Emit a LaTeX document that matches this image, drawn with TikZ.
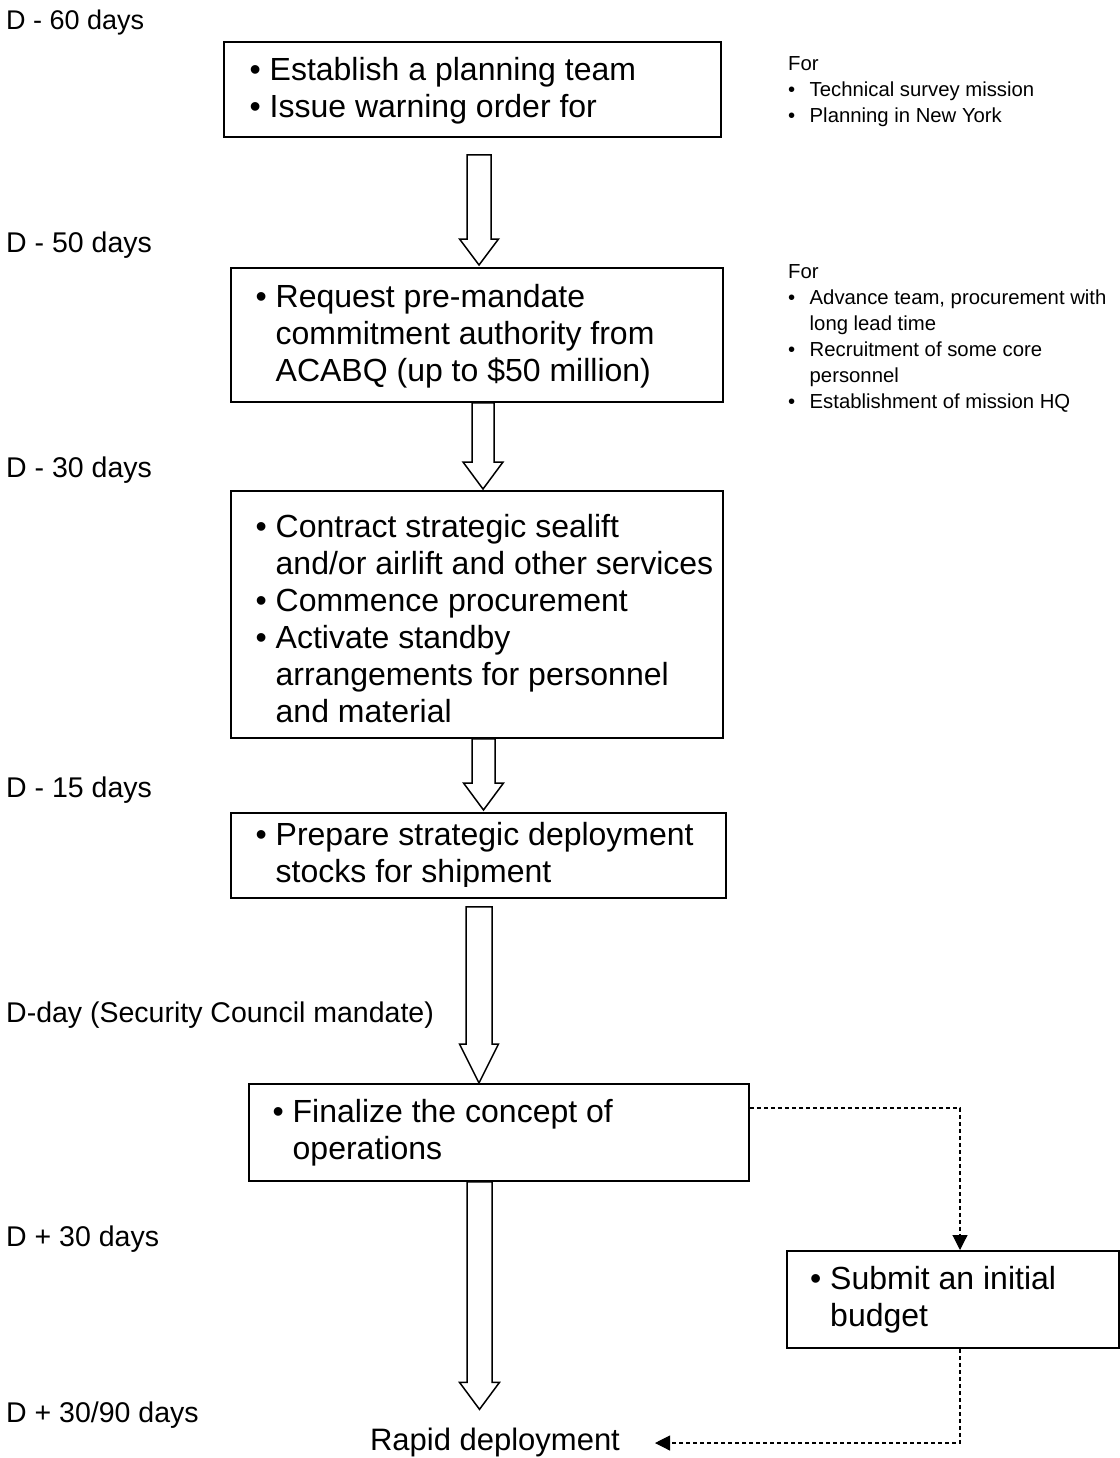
\documentclass[tikz,border=0pt]{standalone}
\usepackage{fontspec}
\setmainfont{Liberation Sans}
\usetikzlibrary{calc,arrows.meta}
\newcommand\bu{\makebox[17pt][l]{\hspace*{-3pt}\textbullet}}
\newcommand\bs{\makebox[21.5pt][l]{\textbullet}}
% #1 start point, #2 end point, #3 centre x, #4 gap below start, #5 gap above end,
% #6 shaft half width, #7 head half width, #8 head length
\newcommand\blockarr[8]{%
  \draw[blockarrow] let \p1=(#1), \p2=(#2) in
  ({(#3-#6)*1pt},{\y1-#4pt}) -- ({(#3+#6)*1pt},{\y1-#4pt})
  -- ({(#3+#6)*1pt},{\y2+(#5+#8)*1pt}) -- ({(#3+#7)*1pt},{\y2+(#5+#8)*1pt})
  -- ({#3*1pt},{\y2+#5pt}) -- ({(#3-#7)*1pt},{\y2+(#5+#8)*1pt})
  -- ({(#3-#6)*1pt},{\y2+(#5+#8)*1pt}) -- cycle;}
\begin{document}
\begin{tikzpicture}[x=1pt,y=1pt,
  boxnode/.style={draw, line width=1.8pt, inner sep=0pt, anchor=north west, rectangle},
  bigtext/.style={inner sep=0pt, anchor=base west, font=\fontsize{32}{37}\selectfont},
  sidetext/.style={inner sep=0pt, anchor=base west, font=\fontsize{20.3}{26}\selectfont},
  daylabel/.style={inner sep=0pt, anchor=base west, font=\fontsize{28.5}{33}\selectfont},
  blockarrow/.style={draw, line width=1.5pt, fill=white, line join=miter},
  dashconn/.style={line width=1.1pt, dash pattern=on 4pt off 3pt, -{Triangle[length=15pt,width=15pt]}}
]
\useasboundingbox (0,0) rectangle (1119,-1458);

% day labels
\node[daylabel, font=\fontsize{27}{32}\selectfont] (l1) at (6,-29.5) {D - 60 days};
\node[daylabel] (l2) at (6,-252.5) {D - 50 days};
\node[daylabel] (l3) at (6,-477.5) {D - 30 days};
\node[daylabel] (l4) at (6,-797.5) {D - 15 days};
\node[daylabel] (l5) at (6,-1022.5) {D-day (Security Council mandate)};
\node[daylabel] (l6) at (6,-1246.5) {D + 30 days};
\node[daylabel] (l7) at (6,-1422.5) {D + 30/90 days};

% boxes
\node[boxnode, minimum width=497pt, minimum height=95pt] (b1) at (223,-41) {};
\node[boxnode, minimum width=492pt, minimum height=134pt] (b2) at (230,-267) {};
\node[boxnode, minimum width=492pt, minimum height=247pt] (b3) at (230,-490) {};
\node[boxnode, minimum width=495pt, minimum height=85pt] (b4) at (230,-812) {};
\node[boxnode, minimum width=500pt, minimum height=97pt] (b5) at (248,-1083) {};
\node[boxnode, minimum width=332pt, minimum height=97pt] (b6) at (786,-1250) {};

% box texts
\node[bigtext] (t1) at (252.5,-80.5) {\begin{tabular}[t]{@{}l@{}l@{}}
\bu & Establish a planning team\\
\bu & Issue warning order for\end{tabular}};
\node[bigtext] (t2) at (258.5,-307.5) {\begin{tabular}[t]{@{}l@{}l@{}}
\bu & Request pre-mandate\\
 & commitment authority from\\
 & ACABQ (up to \$50 million)\end{tabular}};
\node[bigtext] (t3) at (258.5,-537.5) {\begin{tabular}[t]{@{}l@{}l@{}}
\bu & Contract strategic sealift\\
 & and/or airlift and other services\\
\bu & Commence procurement\\
\bu & Activate standby\\
 & arrangements for personnel\\
 & and material\end{tabular}};
\begin{scope}
\clip (b4.north west) rectangle ([yshift=12pt]b4.south east);
\node[bigtext] (t4) at (258.5,-845.5) {\begin{tabular}[t]{@{}l@{}l@{}}
\bu & Prepare strategic deployment\\
 & stocks for shipment\end{tabular}};
\end{scope}
\node[bigtext] (t5) at (275.5,-1122.5) {\begin{tabular}[t]{@{}l@{}l@{}}
\bu & Finalize the concept of\\
 & operations\end{tabular}};
\node[bigtext] (t6) at (813,-1289.5) {\begin{tabular}[t]{@{}l@{}l@{}}
\bu & Submit an initial\\
 & budget\end{tabular}};

% side notes
\node[sidetext] (s1) at (788,-71) {\begin{tabular}[t]{@{}l@{}l@{}}
\multicolumn{2}{@{}l@{}}{For}\\
\bs & Technical survey mission\\
\bs & Planning in New York\end{tabular}};
\node[sidetext] (s2) at (788,-278) {\begin{tabular}[t]{@{}l@{}l@{}}
\multicolumn{2}{@{}l@{}}{For}\\
\bs & Advance team, procurement with\\
 & long lead time\\
\bs & Recruitment of some core\\
 & personnel\\
\bs & Establishment of mission HQ\end{tabular}};

% final text
\node[inner sep=0pt, anchor=base, font=\fontsize{31}{36}\selectfont] (rapid) at (495,-1450) {Rapid deployment};

% block arrows
\blockarr{b1.south}{b2.north}{479}{17}{2}{12}{19.5}{26}
\blockarr{b2.south}{b3.north}{483}{0}{1}{11}{20}{27}
\blockarr{b3.south}{b4.north}{483.5}{0}{2}{11.5}{20}{27}
\blockarr{b4.south}{b5.north}{479}{8}{0}{13}{19.5}{39}
\blockarr{b5.south}{rapid.north}{479.5}{0}{18}{12.5}{20}{27}

% dashed connectors
\coordinate (dx) at (960,-1443);
\coordinate (rtip) at (655,-1443);
\draw[dashconn] ($(b5.north east)+(0,-25)$) -| (b6.north -| dx);
\draw[dashconn] (b6.south -| dx) -- (dx) -- (rtip);
\end{tikzpicture}
\end{document}
